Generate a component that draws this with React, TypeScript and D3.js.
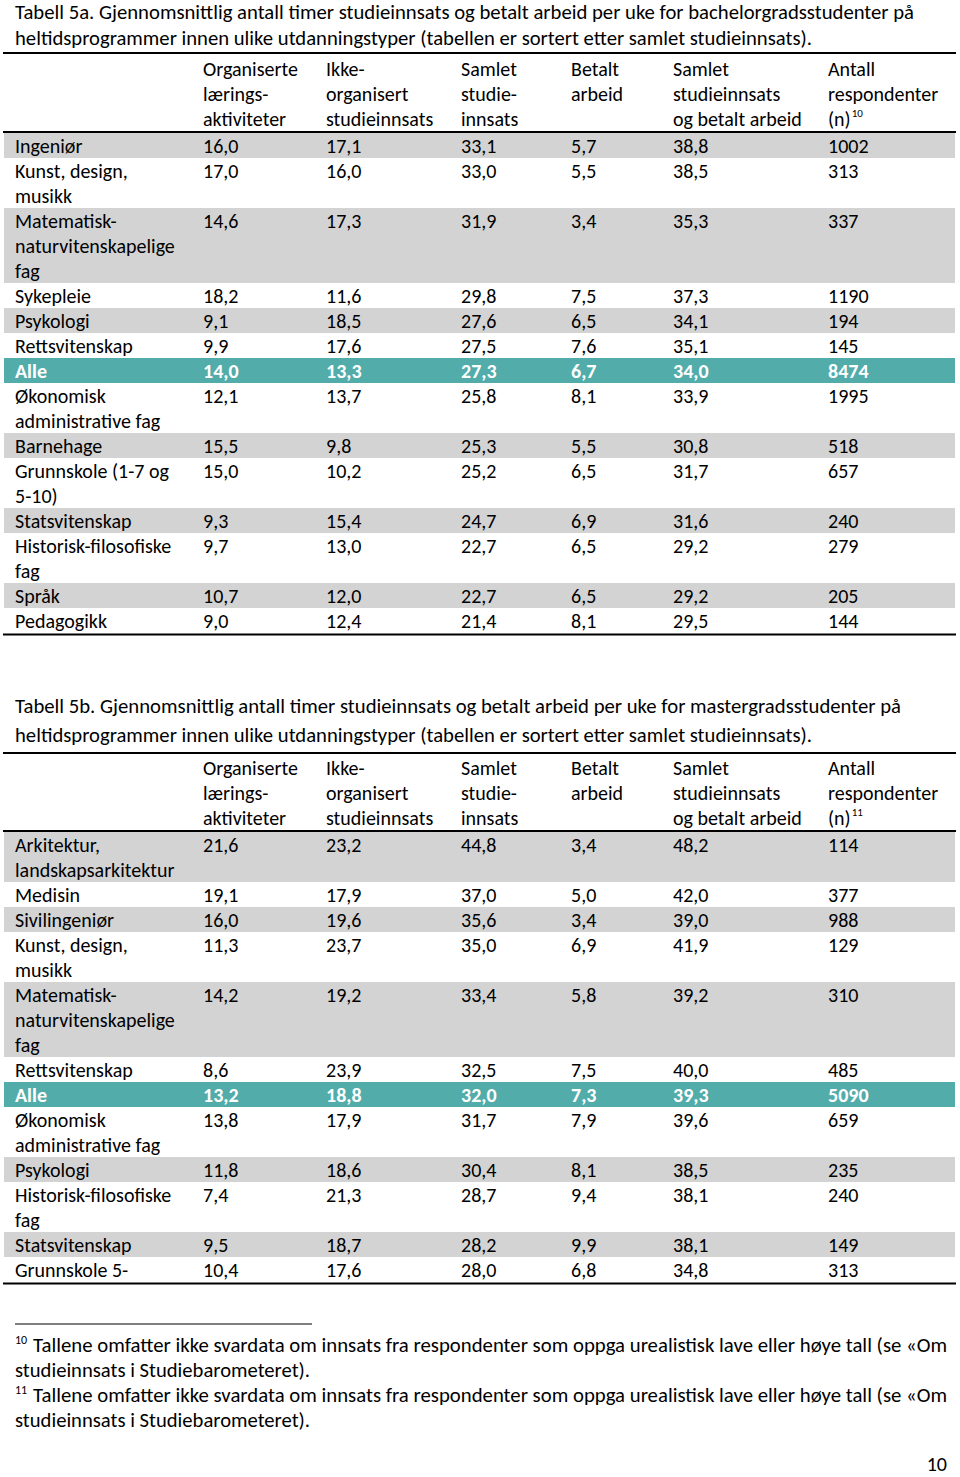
import React from "react";
import * as d3 from "d3";

// ---------- Data: Tabell 5a (bachelor) ----------
const categoriesA: string[][] = [
  ["Ingeniør"],
  ["Kunst, design,", "musikk"],
  ["Matematisk-", "naturvitenskapelige", "fag"],
  ["Sykepleie"],
  ["Psykologi"],
  ["Rettsvitenskap"],
  ["Alle"],
  ["Økonomisk", "administrative fag"],
  ["Barnehage"],
  ["Grunnskole (1-7 og", "5-10)"],
  ["Statsvitenskap"],
  ["Historisk-filosofiske", "fag"],
  ["Språk"],
  ["Pedagogikk"],
];
const organisertA = [16.0, 17.0, 14.6, 18.2, 9.1, 9.9, 14.0, 12.1, 15.5, 15.0, 9.3, 9.7, 10.7, 9.0];
const ikkeOrganisertA = [17.1, 16.0, 17.3, 11.6, 18.5, 17.6, 13.3, 13.7, 9.8, 10.2, 15.4, 13.0, 12.0, 12.4];
const samletStudieA = [33.1, 33.0, 31.9, 29.8, 27.6, 27.5, 27.3, 25.8, 25.3, 25.2, 24.7, 22.7, 22.7, 21.4];
const betaltA = [5.7, 5.5, 3.4, 7.5, 6.5, 7.6, 6.7, 8.1, 5.5, 6.5, 6.9, 6.5, 6.5, 8.1];
const samletTotalA = [38.8, 38.5, 35.3, 37.3, 34.1, 35.1, 34.0, 33.9, 30.8, 31.7, 31.6, 29.2, 29.2, 29.5];
const antallA = [1002, 313, 337, 1190, 194, 145, 8474, 1995, 518, 657, 240, 279, 205, 144];

// ---------- Data: Tabell 5b (master) ----------
const categoriesB: string[][] = [
  ["Arkitektur,", "landskapsarkitektur"],
  ["Medisin"],
  ["Sivilingeniør"],
  ["Kunst, design,", "musikk"],
  ["Matematisk-", "naturvitenskapelige", "fag"],
  ["Rettsvitenskap"],
  ["Alle"],
  ["Økonomisk", "administrative fag"],
  ["Psykologi"],
  ["Historisk-filosofiske", "fag"],
  ["Statsvitenskap"],
  ["Grunnskole 5-"],
];
const organisertB = [21.6, 19.1, 16.0, 11.3, 14.2, 8.6, 13.2, 13.8, 11.8, 7.4, 9.5, 10.4];
const ikkeOrganisertB = [23.2, 17.9, 19.6, 23.7, 19.2, 23.9, 18.8, 17.9, 18.6, 21.3, 18.7, 17.6];
const samletStudieB = [44.8, 37.0, 35.6, 35.0, 33.4, 32.5, 32.0, 31.7, 30.4, 28.7, 28.2, 28.0];
const betaltB = [3.4, 5.0, 3.4, 6.9, 5.8, 7.5, 7.3, 7.9, 8.1, 9.4, 9.9, 6.8];
const samletTotalB = [48.2, 42.0, 39.0, 41.9, 39.2, 40.0, 39.3, 39.6, 38.5, 38.1, 38.1, 34.8];
const antallB = [114, 377, 988, 129, 310, 485, 5090, 659, 235, 240, 149, 313];

// ---------- Header & text ----------
const headerCols: string[][] = [
  ["Organiserte", "lærings-", "aktiviteter"],
  ["Ikke-", "organisert", "studieinnsats"],
  ["Samlet", "studie-", "innsats"],
  ["Betalt", "arbeid"],
  ["Samlet", "studieinnsats", "og betalt arbeid"],
  ["Antall", "respondenter", "(n)"],
];
const titleA = [
  "Tabell 5a. Gjennomsnittlig antall timer studieinnsats og betalt arbeid per uke for bachelorgradsstudenter på",
  "heltidsprogrammer innen ulike utdanningstyper (tabellen er sortert etter samlet studieinnsats).",
];
const titleB = [
  "Tabell 5b. Gjennomsnittlig antall timer studieinnsats og betalt arbeid per uke for mastergradsstudenter på",
  "heltidsprogrammer innen ulike utdanningstyper (tabellen er sortert etter samlet studieinnsats).",
];
const footnotes = [
  { mark: "10", lines: ["Tallene omfatter ikke svardata om innsats fra respondenter som oppga urealistisk lave eller høye tall (se «Om", "studieinnsats i Studiebarometeret)."] },
  { mark: "11", lines: ["Tallene omfatter ikke svardata om innsats fra respondenter som oppga urealistisk lave eller høye tall (se «Om", "studieinnsats i Studiebarometeret)."] },
];
const pageNumber = "10";

// ---------- Style ----------
const FONT = "Carlito, Lato, 'Open Sans', sans-serif";
const FS = 20;
const GRAY = "#d3d3d3";
const TEAL = "#52acaa";
const ROW_H = 25;
const X0 = 3;
const X1 = 956;

const fmt = (v: number) => d3.format(".1f")(v).replace(".", ",");

const colX = d3.scaleOrdinal<number, number>().domain([0, 1, 2, 3, 4, 5, 6]).range([15, 203, 326, 461, 571, 673, 828]);

interface TableProps {
  title: string[];
  titleY: number[];
  titleWidths: number[];
  topRule: number;
  headerTop: number;
  sup: string;
  cats: string[][];
  cols: number[][];
  n: number[];
}

function Table({ title, titleY, titleWidths, topRule, headerTop, sup, cats, cols, n }: TableProps) {
  const headerBottom = headerTop + 3 * ROW_H;
  const bodyTop = headerBottom + 2;
  const heights = cats.map((c) => c.length * ROW_H);
  const tops = [0, ...Array.from(d3.cumsum(heights))].slice(0, cats.length).map((v) => v + bodyTop);
  const bodyBottom = bodyTop + d3.sum(heights);
  const yLine = d3.scaleLinear().domain([0, 1]).range([0, ROW_H]);
  return (
    <g>
      {title.map((t, i) => (
        <text key={i} x={15} y={titleY[i]} fontSize={FS - 0.5} textLength={titleWidths[i]} lengthAdjust="spacingAndGlyphs">
          {t}
        </text>
      ))}
      <line x1={X0} x2={X1} y1={topRule} y2={topRule} stroke="#000" strokeWidth={2} />
      {headerCols.map((lines, ci) => (
        <g key={ci}>
          {lines.map((l, li) => (
            <text key={li} x={colX(ci + 1)} y={headerTop + yLine(li) + 20} fontSize={FS}>
              {l}
              {ci === 5 && li === 2 ? (
                <tspan fontSize={11} dy={-9} dx={1}>
                  {sup}
                </tspan>
              ) : null}
            </text>
          ))}
        </g>
      ))}
      {cats.map((c, ri) => {
        const isAlle = c[0] === "Alle";
        const fill = isAlle ? TEAL : ri % 2 === 0 ? GRAY : "none";
        const color = isAlle ? "#fff" : "#000";
        const weight = isAlle ? 700 : 400;
        const values = [...cols.map((col) => fmt(col[ri])), String(n[ri])];
        return (
          <g key={ri}>
            <rect x={4} y={tops[ri]} width={951} height={heights[ri]} fill={fill} />
            {c.map((l, li) => (
              <text key={li} x={colX(0)} y={tops[ri] + yLine(li) + 20} fontSize={FS} fill={color} fontWeight={weight}>
                {l}
              </text>
            ))}
            {values.map((v, vi) => (
              <text key={vi} x={colX(vi + 1)} y={tops[ri] + 20} fontSize={FS} fill={color} fontWeight={weight}>
                {v}
              </text>
            ))}
          </g>
        );
      })}
      <line x1={X0} x2={X1} y1={headerBottom + 1} y2={headerBottom + 1} stroke="#000" strokeWidth={2.2} />
      <line x1={X0} x2={X1} y1={bodyBottom + 1.5} y2={bodyBottom + 1.5} stroke="#000" strokeWidth={2} />
    </g>
  );
}

export default function App() {
  return (
    <div style={{ position: "absolute", left: 0, top: 0, background: "#fff" }}>
      <svg width={960} height={1477} fontFamily={FONT} style={{ display: "block" }}>
        <rect width={960} height={1477} fill="#fff" />
        <Table
          title={titleA}
          titleY={[18.5, 45]}
          titleWidths={[899, 797]}
          topRule={53}
          headerTop={56}
          sup="10"
          cats={categoriesA}
          cols={[organisertA, ikkeOrganisertA, samletStudieA, betaltA, samletTotalA]}
          n={antallA}
        />
        <Table
          title={titleB}
          titleY={[713, 742]}
          titleWidths={[886, 797]}
          topRule={753}
          headerTop={755}
          sup="11"
          cats={categoriesB}
          cols={[organisertB, ikkeOrganisertB, samletStudieB, betaltB, samletTotalB]}
          n={antallB}
        />
        <line x1={15} x2={312} y1={1324} y2={1324} stroke="#000" strokeWidth={1.2} />
        {footnotes.map((f, i) => (
          <g key={i}>
            <text x={15} y={1344 + i * 50} fontSize={12}>
              {f.mark}
            </text>
            <text x={33} y={1352 + i * 50} fontSize={FS - 0.5} textLength={914} lengthAdjust="spacingAndGlyphs">
              {f.lines[0]}
            </text>
            <text x={15} y={1377 + i * 50} fontSize={FS - 0.5} textLength={295} lengthAdjust="spacingAndGlyphs">
              {f.lines[1]}
            </text>
          </g>
        ))}
        <text x={947} y={1471} fontSize={FS} textAnchor="end">
          {pageNumber}
        </text>
      </svg>
    </div>
  );
}
